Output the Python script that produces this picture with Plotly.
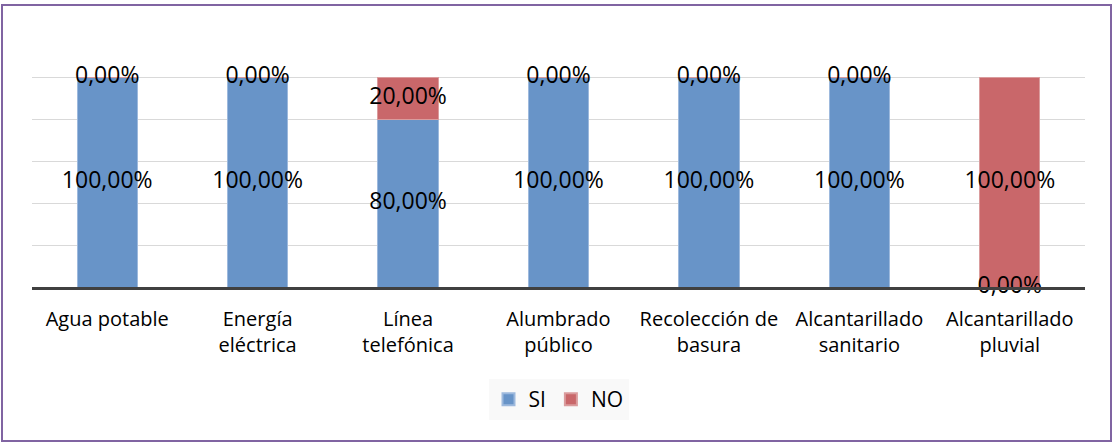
import plotly.graph_objects as go

categories = ["Agua potable", "Energía<br>eléctrica", "Línea<br>telefónica", "Alumbrado<br>público",
              "Recolección de<br>basura", "Alcantarillado<br>sanitario", "Alcantarillado<br>pluvial"]
si_values = [1.0, 1.0, 0.8, 1.0, 1.0, 1.0, 0.0]
no_values = [0.0, 0.0, 0.2, 0.0, 0.0, 0.0, 1.0]

FONT = "'Open Sans', sans-serif"
BLUE = "#6894C8"
RED = "#C9676A"


def pct(v):
    return f"{v*100:.2f}%".replace(".", ",")


fig = go.Figure()
fig.add_trace(go.Bar(x=categories, y=si_values, name="SI", marker=dict(color=BLUE, line=dict(color="#9DB9DD", width=1))))
fig.add_trace(go.Bar(x=categories, y=no_values, name="NO", marker=dict(color=RED, line=dict(color="#DA9C9D", width=1))))

# data labels centred in each segment
si_mid = [v / 2 for v in si_values]
no_mid = [s + n / 2 for s, n in zip(si_values, no_values)]
for mids, vals in [(si_mid, si_values), (no_mid, no_values)]:
    fig.add_trace(go.Scatter(x=categories, y=mids, mode="text", text=[pct(v) for v in vals],
                             textfont=dict(family=FONT, size=23, color="#000000"),
                             showlegend=False, hoverinfo="skip", cliponaxis=False))

fig.update_layout(
    barmode="stack",
    bargap=0.6,
    width=1114, height=444,
    margin=dict(l=32, r=29, t=35, b=157),
    paper_bgcolor="white",
    plot_bgcolor="white",
    font=dict(family=FONT, size=21, color="#000000"),
    showlegend=True,
    legend=dict(orientation="h", x=0.5, xanchor="center", y=-0.365, yanchor="top",
                bgcolor="#F9F9F9", font=dict(size=21), itemsizing="constant",
                traceorder="normal", borderwidth=0),
    xaxis=dict(showline=True, linecolor="#404040", linewidth=3, ticks="outside",
               ticklen=12, tickcolor="rgba(0,0,0,0)", tickfont=dict(size=20)),
    yaxis=dict(range=[0, 1.2], dtick=0.2, showticklabels=False, showgrid=True,
               gridcolor="#D9D9D9", gridwidth=1, zeroline=False),
    shapes=[dict(type="rect", xref="paper", yref="paper",
                 x0=-30/1053, x1=1079/1053, y0=-154/252, y1=282/252,
                 line=dict(color="#8064A2", width=2), fillcolor="rgba(0,0,0,0)")],
)

fig.write_html("out.html", config={"displayModeBar": False},
               post_script="document.body.style.margin='0';")
